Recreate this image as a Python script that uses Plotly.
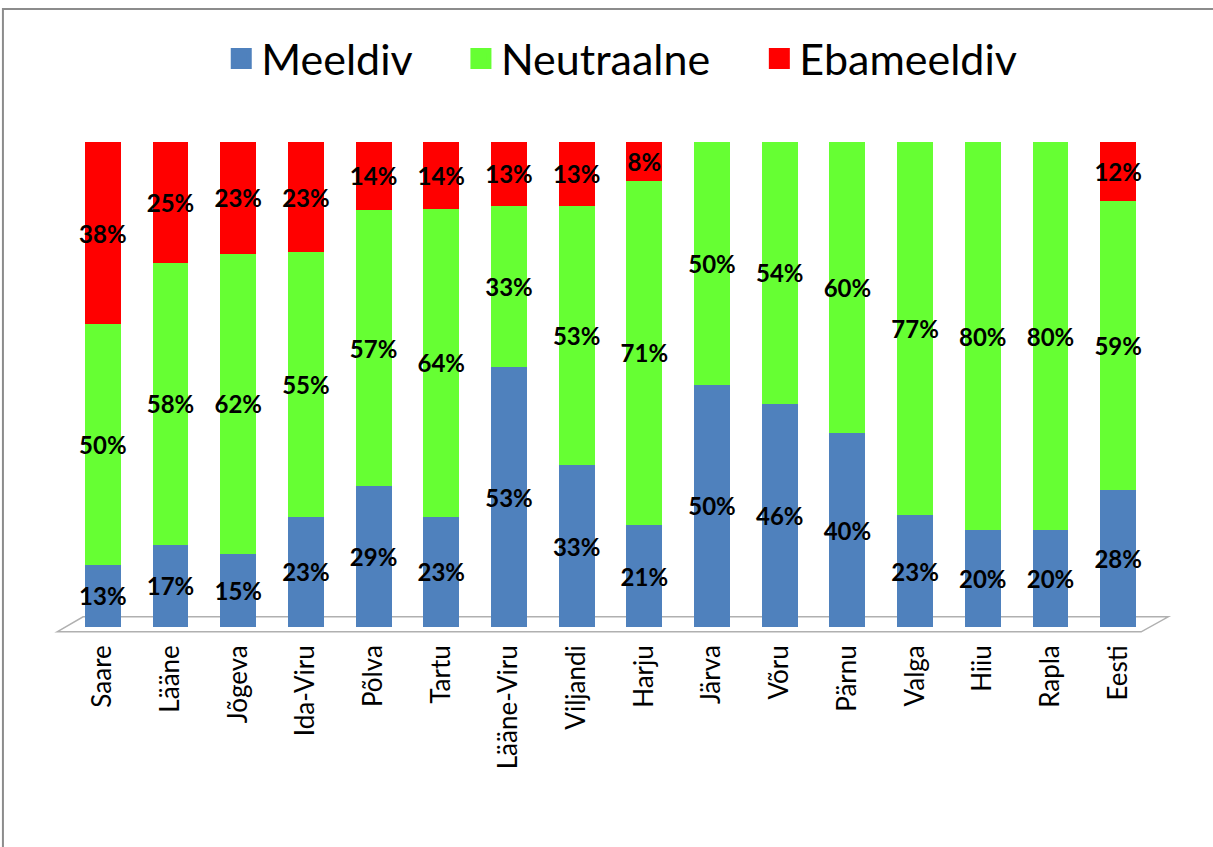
import plotly.graph_objects as go

regions = ["Saare", "Lääne", "Jõgeva", "Ida-Viru", "Põlva", "Tartu", "Lääne-Viru", "Viljandi",
           "Harju", "Järva", "Võru", "Pärnu", "Valga", "Hiiu", "Rapla", "Eesti"]
meeldiv = [13, 17, 15, 23, 29, 23, 53, 33, 21, 50, 46, 40, 23, 20, 20, 28]
neutraalne = [50, 58, 62, 55, 57, 64, 33, 53, 71, 50, 54, 60, 77, 80, 80, 59]
ebameeldiv = [38, 25, 23, 23, 14, 14, 13, 13, 8, 0, 0, 0, 0, 0, 0, 12]

series = [("Meeldiv", meeldiv, "#4F81BD"),
          ("Neutraalne", neutraalne, "#66FF33"),
          ("Ebameeldiv", ebameeldiv, "#FF0000")]

fig = go.Figure()
for name, vals, col in series:
    fig.add_trace(go.Bar(
        x=regions, y=vals, name=name, showlegend=False,
        marker=dict(color=col, line=dict(width=0)),
        text=[f"{v}%" if v > 0 else "" for v in vals],
        textposition="inside", insidetextanchor="middle", textangle=0,
        constraintext="none",
        textfont=dict(family="Lato", size=24, color="black", weight="bold"),
        hoverinfo="x+y+name",
    ))
# legend entries (square swatches), one legend box each
legend_ids = ["legend", "legend2", "legend3"]
for (name, vals, col), lid in zip(series, legend_ids):
    fig.add_trace(go.Scatter(
        x=[None], y=[None], mode="markers", name=name, legend=lid,
        marker=dict(symbol="square", size=26, color=col, line=dict(color=col, width=5)),
    ))

leg_common = dict(orientation="h", xref="container", yref="container", xanchor="left",
                  y=0.931, yanchor="middle", bgcolor="rgba(0,0,0,0)", itemsizing="trace",
                  font=dict(size=43, family="Lato"))
leg_x = [0.1824, 0.380, 0.626]

fig.update_layout(
    width=1213, height=847,
    barmode="stack", barnorm="percent", bargap=0.47,
    paper_bgcolor="white", plot_bgcolor="white",
    margin=dict(l=69, r=61, t=142, b=220, autoexpand=False),
    font=dict(family="Lato", color="black"),
    showlegend=True,
    legend=dict(x=leg_x[0], **leg_common),
    legend2=dict(x=leg_x[1], **leg_common),
    legend3=dict(x=leg_x[2], **leg_common),
    xaxis=dict(tickangle=-90, tickfont=dict(size=26), showgrid=False, showline=False,
               ticks="", ticklabelstandoff=12, automargin=False),
    yaxis=dict(range=[0, 100], visible=False, automargin=False),
    shapes=[
        dict(type="rect", xref="paper", yref="paper", x0=-0.061, x1=1.2, y0=-0.6, y1=1.274,
             line=dict(color="#8C8C8C", width=2), fillcolor="rgba(0,0,0,0)", layer="below"),
        dict(type="path", xref="paper", yref="paper",
             path="M -0.011,-0.010 L 0.013,0.021 L 1.015,0.021 L 0.990,-0.010 Z",
             line=dict(color="#B0B0B0", width=1.5), fillcolor="white", layer="below"),
    ],
)

fig.write_html("out.html", config={"displayModeBar": False},
               post_script="document.body.style.margin='0';")
